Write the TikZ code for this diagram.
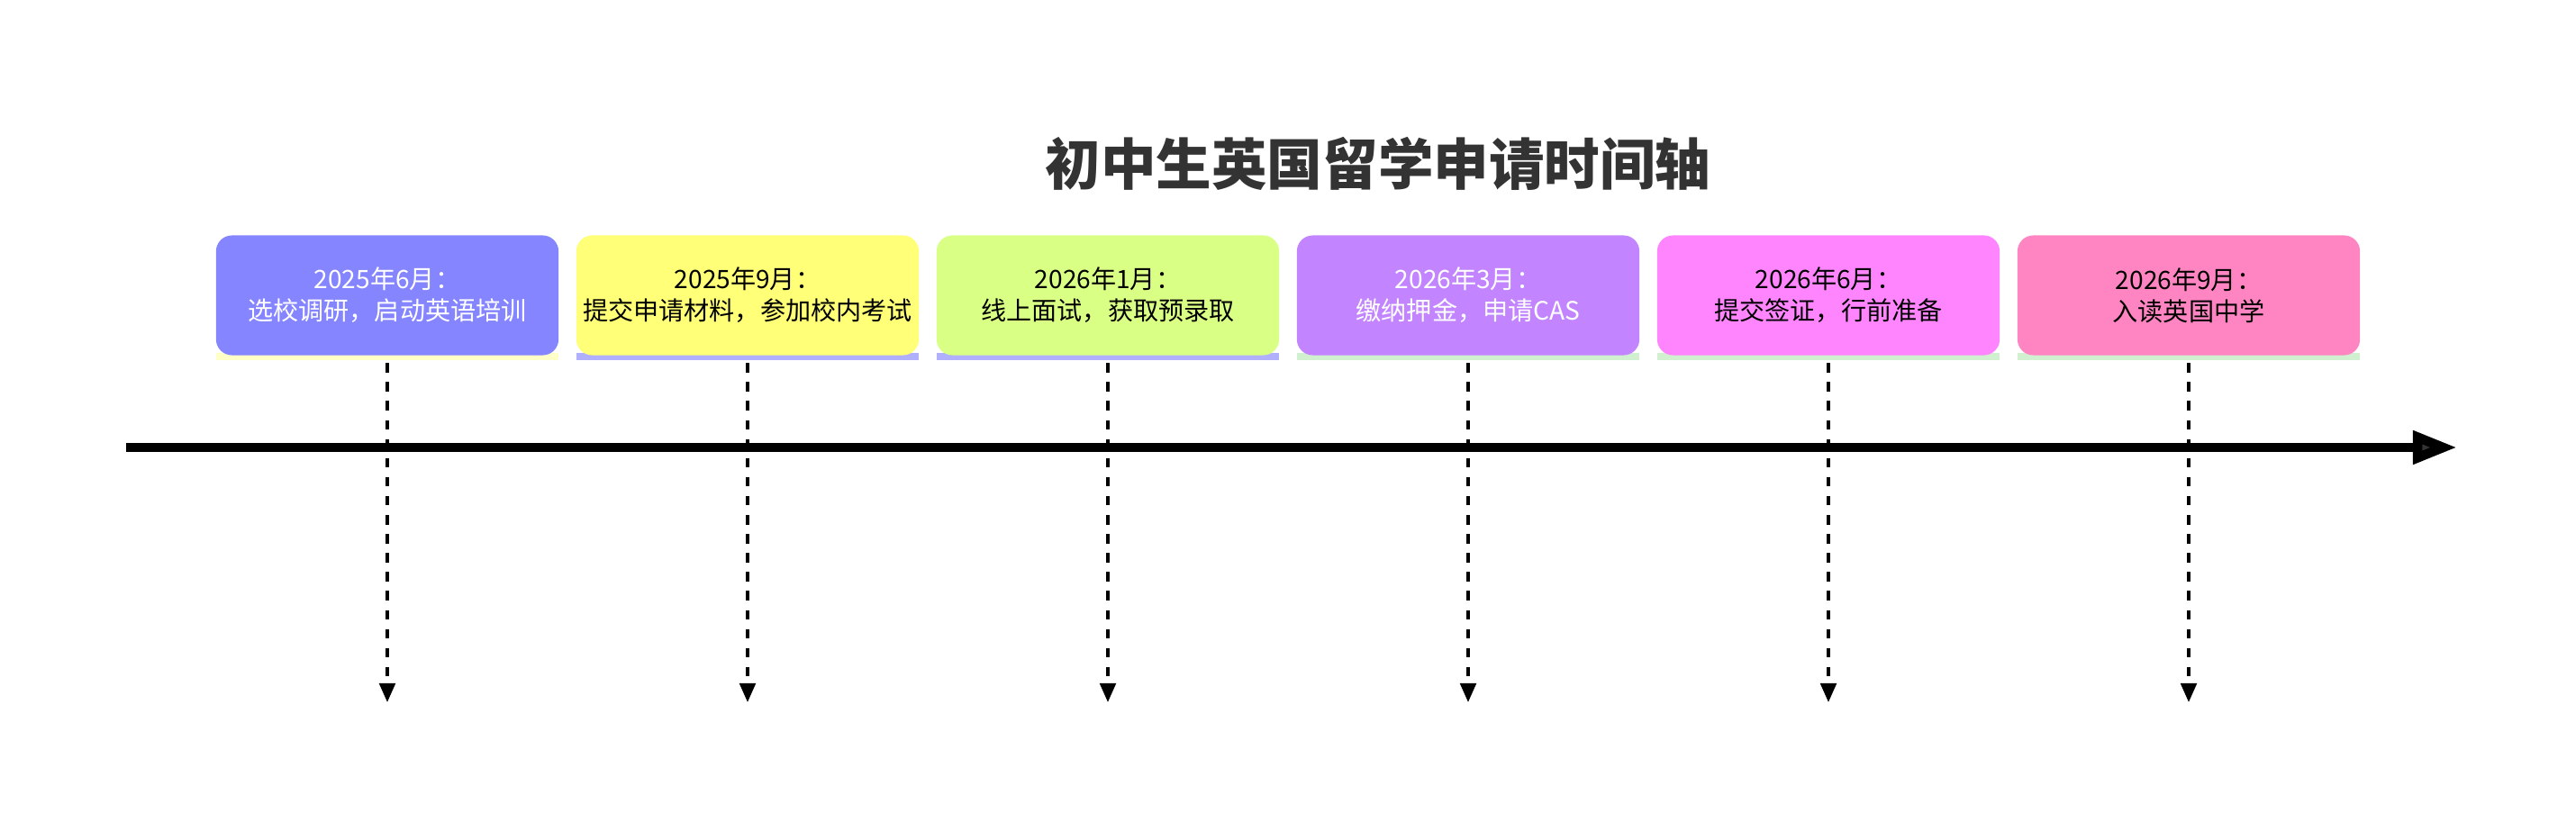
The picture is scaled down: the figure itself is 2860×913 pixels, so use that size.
\documentclass[tikz,border=0pt]{standalone}
\usepackage{fontspec}
\setmainfont{Noto Sans CJK SC}
\usetikzlibrary{arrows.meta}
\definecolor{secA}{HTML}{8585FF}
\definecolor{secB}{HTML}{FFFF78}
\definecolor{secC}{HTML}{D9FF85}
\definecolor{secD}{HTML}{C285FF}
\definecolor{secE}{HTML}{FF85FF}
\definecolor{secF}{HTML}{FF85C2}
\definecolor{stripA}{HTML}{FFFFC8}
\definecolor{stripB}{HTML}{B0B0FF}
\definecolor{stripC}{HTML}{D0F0D0}
\tikzset{
  period/.style={rectangle, rounded corners=5pt, minimum width=3.8cm, minimum height=1.33cm, inner sep=0pt, align=center, font=\fontsize{8}{10}\selectfont},
  guide/.style={dashed, line width=1pt, -{Triangle[length=6pt,width=5pt]}}
}
\begin{document}
\begin{tikzpicture}[x=0.01cm, y=-0.01cm]
  \useasboundingbox (0,0) rectangle (2860,913);
  % Title
  \node[font=\fontsize{17.5}{20}\selectfont\bfseries, text=black!80] (title) at (1530,182) {初中生英国留学申请时间轴};
  % Axis
  \coordinate (axisL) at (140,497);
  \coordinate (axisR) at (2728,497);
  \draw[line width=3pt, -{Triangle[length=14pt,width=10pt,fill=black!80]}] (axisL) -- (axisR);
  % Periods
  \foreach \x/\c/\s/\t/\n/\l in {
    430/secA/stripA/white/pA/{2025年6月：\\选校调研，启动英语培训},
    830/secB/stripB/black/pB/{2025年9月：\\提交申请材料，参加校内考试},
    1230/secC/stripB/black/pC/{2026年1月：\\线上面试，获取预录取},
    1630/secD/stripC/white/pD/{2026年3月：\\缴纳押金，申请CAS},
    2030/secE/stripC/black/pE/{2026年6月：\\提交签证，行前准备},
    2430/secF/stripC/black/pF/{2026年9月：\\入读英国中学}} {
    \fill[\s] (\x-190,392) rectangle (\x+190,400);
    \node[period, fill=\c, text=\t] (\n) at (\x,328) {\l};
    \coordinate (\n end) at (\x,780);
    \draw[guide] (\n.south) ++(0,8) -- (\n end);
  }
\end{tikzpicture}
\end{document}
